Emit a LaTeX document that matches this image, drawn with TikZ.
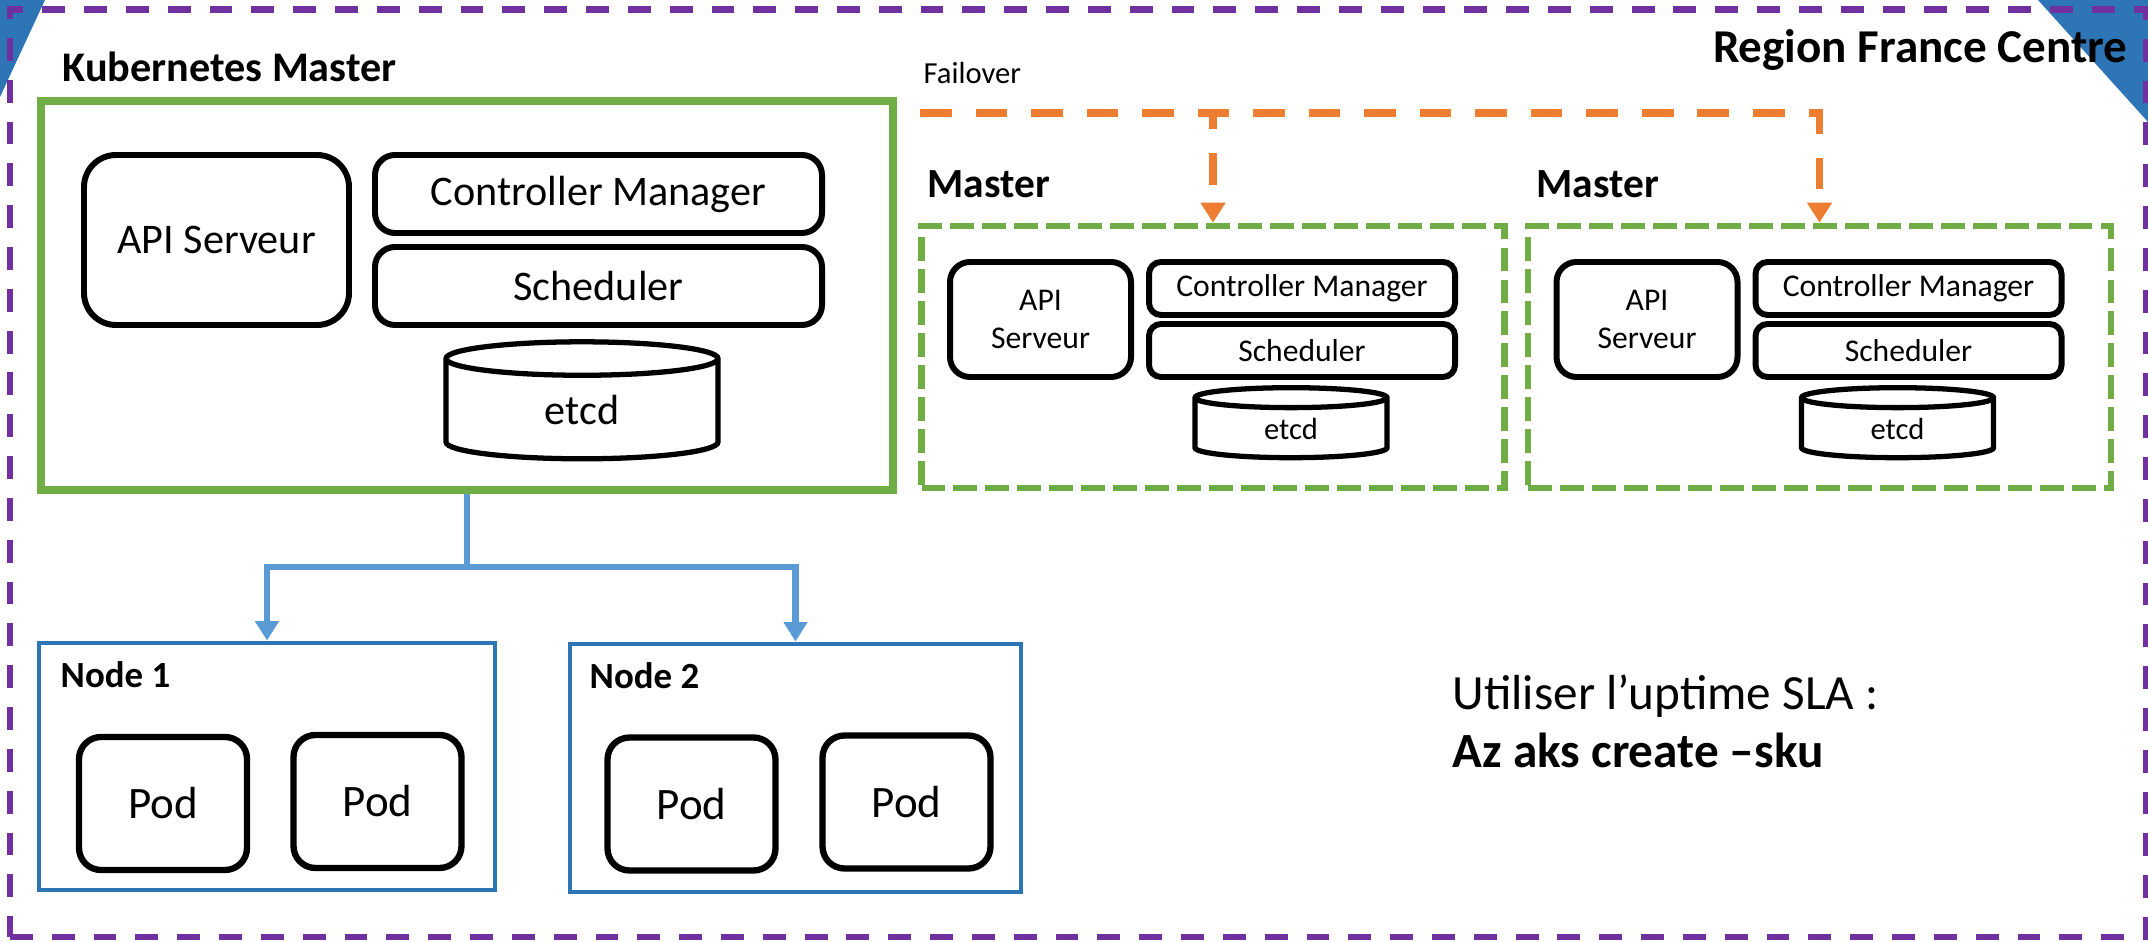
\documentclass[tikz,border=0pt]{standalone}
\usepackage{fontspec}
\setmainfont{Carlito}
\usetikzlibrary{arrows.meta,positioning,shapes.geometric}
\definecolor{regionline}{HTML}{7030A0}
\definecolor{masterline}{HTML}{70AD47}
\definecolor{nodeline}{HTML}{2E75B6}
\definecolor{linkline}{HTML}{5B9BD5}
\definecolor{failline}{HTML}{ED7D31}
\definecolor{cornerfill}{HTML}{2E75B6}
\newcommand{\fsz}[2]{\fontsize{#1}{#2}\selectfont}

\begin{document}
\begin{tikzpicture}[
heading/.style={anchor=base west,inner sep=0pt},
part/.style={draw,line width=1.7pt,rounded corners=#1,align=center,inner sep=0pt},
store/.style={draw,cylinder,shape border rotate=90,aspect=#1,line width=1.5pt,inner sep=0pt},
frame/.style={draw=#1,line width=1.9pt,inner sep=0pt},
standby/.style={frame=masterline,dash pattern=on 6.8pt off 2.3pt,minimum width=5.83cm,minimum height=2.62cm},
pod/.style={part=0.22cm,line width=1.8pt,minimum width=1.68cm,minimum height=1.33cm,font=\fsz{12.8}{15}},
relay/.style={-{Triangle[length=5.5pt,width=6.5pt]},line width=1.8pt,draw=linkline},
failover/.style={-{Triangle[length=5.7pt,width=6.8pt]},line width=2.2pt,draw=failline,dash pattern=on 9pt off 6.8pt}]
\useasboundingbox (0,0) rectangle (21.48,9.41);
\fill[cornerfill] (0,9.41) -- (0.45,9.41) -- (0,8.44) -- cycle;
\fill[cornerfill] (20.38,9.41) -- (21.48,9.41) -- (21.48,8.19) -- cycle;
\node[frame=regionline,line width=1.8pt,dash pattern=on 6.5pt off 5.4pt,minimum width=21.36cm,minimum height=9.275cm] (region) at (10.78,4.678) {};
\node[heading,anchor=base east,font=\bfseries\fsz{13.4}{16}] (regionname) at (21.28,8.78) {Region France Centre};

\node[heading,font=\bfseries\fsz{12}{14}] (kmastername) at (0.62,8.59) {Kubernetes Master};
\node[frame=masterline,line width=2pt,minimum width=8.52cm,minimum height=3.89cm] (kmaster) at (4.67,6.455) {};
\node[part=0.32cm,minimum width=2.65cm,minimum height=1.70cm,font=\fsz{12}{14}] (api) at (2.165,7.01) {API Serveur};
\node[part=0.2cm,minimum width=4.47cm,minimum height=0.78cm,font=\fsz{12}{14}] (ctrl) at (5.985,7.47) {Controller Manager};
\node[part=0.2cm,minimum width=4.47cm,minimum height=0.78cm,font=\fsz{12}{14}] (sched) at (5.985,6.55) {Scheduler};
\node[store=0.45,minimum width=2.72cm,minimum height=1.17cm,font=\fsz{12}{14}] (etcd) at (5.82,5.31) {etcd};

\node[frame=nodeline,line width=1.4pt,minimum width=4.56cm,minimum height=2.47cm] (node1) at (2.67,1.745) {};
\node[heading,font=\bfseries\fsz{10.5}{12}] (node1name) at (0.60,2.53) {Node 1};
\node[pod] (pod11) at (1.63,1.375) {Pod};
\node[pod] (pod12) at (3.775,1.395) {Pod};
\node[frame=nodeline,line width=1.4pt,minimum width=4.51cm,minimum height=2.48cm] (node2) at (7.955,1.73) {};
\node[heading,font=\bfseries\fsz{10.5}{12}] (node2name) at (5.89,2.52) {Node 2};
\node[pod] (pod21) at (6.915,1.37) {Pod};
\node[pod] (pod22) at (9.065,1.39) {Pod};

\coordinate (fork) at (4.67,3.74);
\draw[relay] (kmaster.south) -- (fork) -| (node1.north);
\draw[relay] (fork) -| (node2.north);

\node[standby] (master1) at (12.13,5.84) {};
\node[heading,font=\bfseries\fsz{11.8}{14}] (master1name) at (9.27,7.43) {Master};
\node[part=0.2cm,minimum width=1.81cm,minimum height=1.15cm,font=\fsz{9}{10.8}] (m1api) at (10.405,6.215) {API\\Serveur};
\node[part=0.12cm,minimum width=3.06cm,minimum height=0.53cm,font=\fsz{9}{10.8}] (m1ctrl) at (13.02,6.525) {Controller Manager};
\node[part=0.12cm,minimum width=3.06cm,minimum height=0.53cm,font=\fsz{9}{10.8}] (m1sched) at (13.02,5.905) {Scheduler};
\node[store=0.37,minimum width=1.92cm,minimum height=0.70cm,font=\fsz{8.7}{10}] (m1etcd) at (12.91,5.12) {etcd};

\node[standby] (master2) at (18.195,5.84) {};
\node[heading,font=\bfseries\fsz{11.8}{14}] (master2name) at (15.36,7.43) {Master};
\node[part=0.2cm,minimum width=1.81cm,minimum height=1.15cm,font=\fsz{9}{10.8}] (m2api) at (16.47,6.215) {API\\Serveur};
\node[part=0.12cm,minimum width=3.06cm,minimum height=0.53cm,font=\fsz{9}{10.8}] (m2ctrl) at (19.085,6.525) {Controller Manager};
\node[part=0.12cm,minimum width=3.06cm,minimum height=0.53cm,font=\fsz{9}{10.8}] (m2sched) at (19.085,5.905) {Scheduler};
\node[store=0.37,minimum width=1.92cm,minimum height=0.70cm,font=\fsz{8.7}{10}] (m2etcd) at (18.975,5.12) {etcd};

\node[heading,font=\fsz{8.7}{10}] (failnote) at (9.23,8.57) {Failover};
\coordinate (failstart) at (9.20,8.28);
\draw[failover] (failstart) -| (master1.north);
\draw[failover] (failstart) -| (master2.north);

\node[heading,font=\fsz{14}{16.5}] (slanote) at (14.52,2.31) {Utiliser l’uptime SLA :};
\node[heading,font=\bfseries\fsz{14}{16.5}] (slacmd) at (14.52,1.73) {Az aks create –sku};
\end{tikzpicture}
\end{document}
